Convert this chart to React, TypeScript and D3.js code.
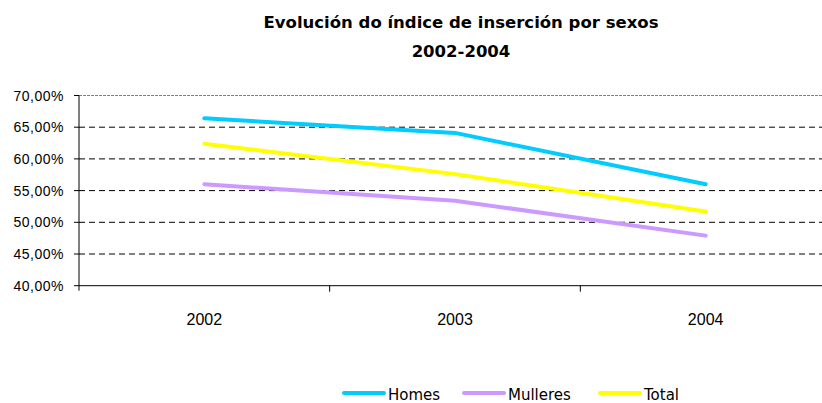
import React from "react";
import * as d3 from "d3";

const categories = ["2002", "2003", "2004"];
const homes = [66.4, 64.1, 56.0];
const mulleres = [56.0, 53.4, 47.9];
const total = [62.4, 57.6, 51.7];
const yTicks = [40, 45, 50, 55, 60, 65, 70];
const seriesNames = ["Homes", "Mulleres", "Total"];
const seriesColors = ["#00CCFF", "#CC99FF", "#FFFF00"];

export default function App() {
  const W = 822, H = 403;
  const left = 79, right = 831, top = 95.5, bottom = 285.7;
  const x = d3.scaleBand<string>().domain(categories).range([left, right]);
  const y = d3.scaleLinear().domain([40, 70]).range([bottom, top]);
  const line = d3.line<number>().x((_, i) => x(categories[i])! + x.bandwidth() / 2).y((d) => y(d));
  const series = [homes, mulleres, total];
  const fmt = (v: number) => v.toFixed(2).replace(".", ",") + "%";
  const legendX = [344, 464, 600];
  return (
    <svg width={W} height={H} style={{ position: "absolute", left: 0, top: 0, background: "#fff" }}>
      <g fontFamily="'DejaVu Sans', sans-serif" fontWeight="bold" fontSize={16.5} textAnchor="middle" fill="#000">
        <text x={461} y={28}>Evolución do índice de inserción por sexos</text>
        <text x={461} y={56.5}>2002-2004</text>
      </g>
      {yTicks.map((t) =>
        t === 40 ? null : (
          <line key={t} x1={left} x2={right} y1={y(t)} y2={y(t)}
            stroke={t === 70 ? "#808080" : "#000"} strokeWidth={1} strokeDasharray={t === 70 ? "3,1" : "6,4"} />
        )
      )}
      <line x1={left} x2={left} y1={top} y2={bottom + 5} stroke="#000" strokeWidth={1} />
      <line x1={left} x2={right} y1={bottom} y2={bottom} stroke="#000" strokeWidth={1} />
      {yTicks.map((t) => (
        <g key={"yt" + t}>
          <line x1={left - 5} x2={left} y1={y(t)} y2={y(t)} stroke="#000" />
          <text x={64} y={y(t) + 5} textAnchor="end" fontFamily="'Liberation Sans', Arial, sans-serif" fontSize={14} letterSpacing={0.5}>{fmt(t)}</text>
        </g>
      ))}
      {categories.slice(1).map((c) => (
        <line key={"xt" + c} x1={x(c)!} x2={x(c)!} y1={bottom} y2={bottom + 6} stroke="#000" />
      ))}
      {categories.map((c) => (
        <text key={"xl" + c} x={x(c)! + x.bandwidth() / 2} y={325} textAnchor="middle" fontFamily="'Liberation Sans', Arial, sans-serif" fontSize={16}>{c}</text>
      ))}
      {series.map((s, i) => (
        <path key={"s" + i} d={line(s)!} fill="none" stroke={seriesColors[i]} strokeWidth={4} strokeLinecap="round" strokeLinejoin="round" />
      ))}
      {seriesNames.map((n, i) => (
        <g key={"lg" + n}>
          <line x1={legendX[i]} x2={legendX[i] + 40} y1={393} y2={393} stroke={seriesColors[i]} strokeWidth={4} strokeLinecap="round" />
          <text x={legendX[i] + 44} y={400} fontFamily="'DejaVu Sans', sans-serif" fontSize={15}>{n}</text>
        </g>
      ))}
    </svg>
  );
}
